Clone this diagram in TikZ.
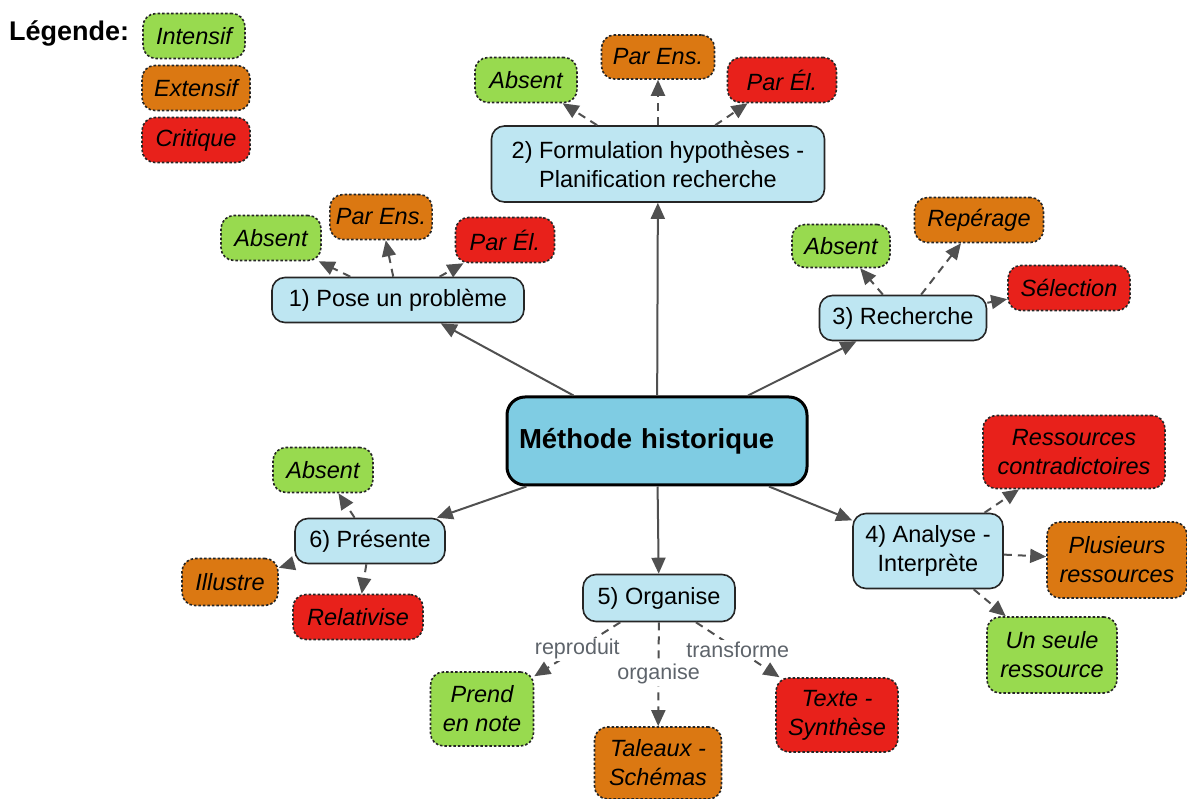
\documentclass[tikz,border=0pt]{standalone}
\usepackage{fontspec}
\setmainfont{Liberation Sans}
\usetikzlibrary{arrows.meta}
\definecolor{cgreen}{HTML}{98DA4F}
\definecolor{corange}{HTML}{DB7812}
\definecolor{cred}{HTML}{E8211B}
\definecolor{clight}{HTML}{BEE6F2}
\definecolor{cdark}{HTML}{7FCCE3}
\definecolor{cline}{HTML}{505050}
\definecolor{clabel}{HTML}{5E646B}
\tikzset{
  mainbox/.style={draw=black!85, line width=1.6pt, fill=clight, rounded corners=13pt, align=center,
    inner xsep=8pt, inner ysep=3pt, font=\fontsize{23.5}{29}\selectfont},
  leaf/.style={draw=black!85, line width=1.6pt, dash pattern=on 2.5pt off 2pt, rounded corners=13pt,
    align=center, inner xsep=6pt, inner ysep=3pt, font=\fontsize{23.5}{29}\selectfont\itshape},
  gleaf/.style={leaf, fill=cgreen},
  oleaf/.style={leaf, fill=corange},
  rleaf/.style={leaf, fill=cred},
  link/.style={draw=cline, line width=2pt, -{Triangle[length=16pt,width=14pt]}},
  dlink/.style={link, dash pattern=on 8pt off 6pt},
  elabel/.style={fill=white, text=clabel, font=\fontsize{21.5}{25}\selectfont, inner sep=1.5pt}
}
\begin{document}
\begin{tikzpicture}[x=1pt,y=-1pt]
\useasboundingbox (0,0) rectangle (1187,799);
% legend
\node[anchor=west, font=\fontsize{27}{32}\selectfont\bfseries, inner sep=0pt] (leg) at (9,33) {Légende:};
\node[gleaf, minimum width=102pt, minimum height=45pt] (lgi) at (194,36) {Intensif};
\node[oleaf, minimum width=108pt, minimum height=45pt] (lge) at (196,88) {Extensif};
\node[rleaf, minimum width=108pt, minimum height=45pt] (lgc) at (196,140) {Critique};

% center
\node[draw=black, line width=3pt, fill=cdark, rounded corners=18pt, minimum height=88pt,
  text width=276pt, align=left, inner xsep=12pt, font=\fontsize{27.5}{32}\selectfont\bfseries] (c) at (657,441) {Méthode historique};

% main nodes
\node[mainbox, minimum width=252pt, minimum height=45pt] (n1) at (398,300) {1) Pose un problème};
\node[mainbox, minimum width=333pt, minimum height=76pt] (n2) at (658,164) {2) Formulation hypothèses -\\Planification recherche};
\node[mainbox, minimum width=167pt, minimum height=45pt] (n3) at (903,318) {3) Recherche};
\node[mainbox, minimum width=150pt, minimum height=75pt] (n4) at (928,551) {4) Analyse -\\Interprète};
\node[mainbox, minimum width=152pt, minimum height=47pt] (n5) at (659,598) {5) Organise};
\node[mainbox, minimum width=150pt, minimum height=45pt] (n6) at (370,541) {6) Présente};

% leaves of 1
\node[gleaf, minimum width=100pt, minimum height=45pt] (a1) at (271,238) {Absent};
\node[oleaf, minimum width=102pt, minimum height=45pt] (b1) at (381,217) {Par Ens.};
\node[rleaf, minimum width=99pt, minimum height=45pt] (r1) at (505,240) {Par Él.};
% leaves of 2
\node[gleaf, minimum width=102pt, minimum height=45pt] (a2) at (526,80) {Absent};
\node[oleaf, minimum width=113pt, minimum height=44pt] (b2) at (658,57) {Par Ens.};
\node[rleaf, minimum width=109pt, minimum height=45pt] (r2) at (782,80) {Par Él.};
% leaves of 3
\node[gleaf, minimum width=98pt, minimum height=43pt] (a3) at (841,246) {Absent};
\node[oleaf, minimum width=129pt, minimum height=45pt] (b3) at (979,220) {Repérage};
\node[rleaf, minimum width=122pt, minimum height=45pt] (r3) at (1069,288) {Sélection};
% leaves of 4
\node[rleaf, minimum width=182pt, minimum height=73pt] (r4) at (1074,452) {Ressources\\contradictoires};
\node[oleaf, minimum width=140pt, minimum height=76pt] (b4) at (1117,560) {Plusieurs\\ressources};
\node[gleaf, minimum width=130pt, minimum height=76pt] (a4) at (1052,655) {Un seule\\ressource};
% leaves of 5
\node[gleaf, minimum width=103pt, minimum height=74pt] (a5) at (482,709) {Prend\\en note};
\node[oleaf, minimum width=127pt, minimum height=72pt] (b5) at (658,763) {Taleaux -\\Schémas};
\node[rleaf, minimum width=122pt, minimum height=74pt] (r5) at (837,715) {Texte -\\Synthèse};
% leaves of 6
\node[gleaf, minimum width=100pt, minimum height=45pt] (a6) at (323,470) {Absent};
\node[oleaf, minimum width=96pt, minimum height=47pt] (b6) at (230,582) {Illustre};
\node[rleaf, minimum width=130pt, minimum height=45pt] (r6) at (358,617) {Relativise};

% central links
\draw[link] (c) -- (n1);
\draw[link] (c) -- (n2);
\draw[link] (c) -- (n3);
\draw[link] (c) -- (n4);
\draw[link] (c) -- (n5);
\draw[link] (c) -- (n6);

% leaf links
\draw[dlink] (n1) -- (a1);
\draw[dlink] (n1) -- (b1);
\draw[dlink] (n1) -- (r1);
\draw[dlink] (n2) -- (a2);
\draw[dlink] (n2) -- (b2);
\draw[dlink] (n2) -- (r2);
\draw[dlink] (n3) -- (a3);
\draw[dlink] (n3) -- (b3);
\draw[dlink] (n3) -- (r3);
\draw[dlink] (n4) -- (r4);
\draw[dlink] (n4) -- (b4);
\draw[dlink] (n4) -- (a4);
\draw[dlink] (n5) -- node[elabel] {reproduit} (a5);
\draw[dlink] (n5) -- node[elabel] {organise} (b5);
\draw[dlink] (n5) -- node[elabel] {transforme} (r5);
\draw[dlink] (n6) -- (a6);
\draw[dlink] (n6) -- (b6);
\draw[dlink] (n6) -- (r6);
\end{tikzpicture}
\end{document}
